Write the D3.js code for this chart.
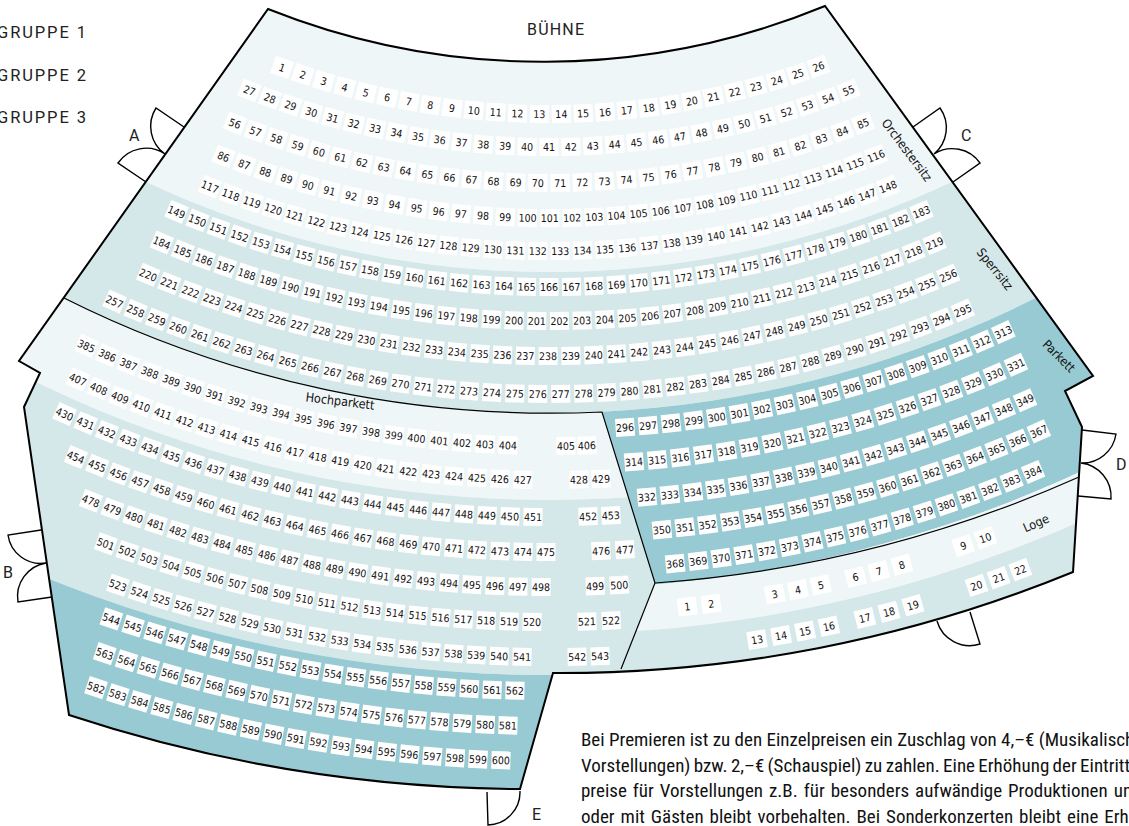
<!DOCTYPE html>
<html>
<head>
<meta charset="utf-8">
<script src="https://cdn.jsdelivr.net/npm/d3@7"></script>
<style>
  html, body { margin: 0; padding: 0; background: #fff; overflow: hidden; }
  svg { display: block; }
  .seat text { font-family: "DejaVu Sans Condensed", "DejaVu Sans", sans-serif; font-stretch: condensed; font-size: 10.5px; fill: #111; text-anchor: middle; dominant-baseline: central; }
  .block { font-family: "DejaVu Sans Condensed", "DejaVu Sans", sans-serif; font-stretch: condensed; font-size: 12.5px; fill: #111; text-anchor: middle; dominant-baseline: central; }
  .tag { font-family: Roboto, sans-serif; font-size: 16px; fill: #222; letter-spacing: 1.2px; }
  .legend { font-size: 16.5px; letter-spacing: 1.9px; }
  .note { font-family: "Liberation Sans Narrow", "Roboto Condensed", sans-serif; font-size: 19px; fill: #111; }
</style>
</head>
<body>
<svg id="plan" width="1129" height="826"></svg>
<script>
// seat rows: first / last number, radius of the row, angle (degrees) of first and last seat
const seatFirst = [1, 27, 56, 86, 117, 149, 184, 220, 257,
  385, 405, 407, 428, 430, 452, 454, 476, 478, 499, 501, 521, 523, 542, 544, 563, 582,
  296, 314, 332, 350, 368];
const seatLast = [26, 55, 85, 116, 148, 183, 219, 256, 295,
  404, 406, 427, 429, 451, 453, 475, 477, 498, 500, 520, 522, 541, 543, 562, 581, 600,
  313, 331, 349, 367, 384];
const rowRadius = [788, 821, 857, 892, 925, 961, 995, 1030, 1068,
  1120, 1120, 1154, 1154, 1191, 1191, 1226, 1226, 1261, 1261, 1296, 1296, 1331, 1331, 1365, 1400, 1435,
  1104, 1139, 1175, 1209, 1244];
const angleFirst = [-19.8, -21.4, -21.5, -21.4, -21.5, -22.8, -22.9, -22.9, -24,
  -24.4, 0.87, -24.1, 1.49, -24, 1.88, -22.7, 2.43, -21.3, 2.1, -20, 1.68, -18.9, 1.21, -18.7, -18.5, -18.4,
  3.95, 4.28, 4.78, 5.36, 5.82];
const angleLast = [20, 21.4, 21.5, 21.5, 21.5, 22.8, 22.8, 22.8, 22.8,
  -2.1, 1.94, -1.3, 2.58, -0.77, 2.98, -0.14, 3.55, -0.36, 3.19, -0.75, 2.75, -1.16, 2.2, -1.43, -1.68, -1.92,
  24.3, 24.2, 23.9, 23.9, 22.9];

// Loge has its own numbering
const logeFirst = [1, 3, 6, 9, 13, 17, 20];
const logeLast = [2, 5, 8, 10, 16, 19, 22];
const logeRadius = [1288, 1288, 1288, 1288, 1330, 1330, 1330];
const logeAngleFirst = [6.16, 10.1, 13.77, 18.76, 9, 13.74, 18.75];
const logeAngleLast = [7.23, 12.18, 15.9, 19.8, 12.15, 15.88, 20.76];

const legendLabels = ['GRUPPE 1', 'GRUPPE 2', 'GRUPPE 3'];
const noteLines = [
  'Bei Premieren ist zu den Einzelpreisen ein Zuschlag von 4,–€ (Musikalische',
  'Vorstellungen) bzw. 2,–€ (Schauspiel) zu zahlen. Eine Erhöhung der Eintritts-',
  'preise für Vorstellungen z.B. für besonders aufwändige Produktionen und',
  'oder mit Gästen bleibt vorbehalten. Bei Sonderkonzerten bleibt eine Erhöhung'
];
const noteSpacing = [0, -1, 1.6, 1.6];

const light = '#eff6f8';
const mid = '#d4e7e9';
const dark = '#97cad2';

const svg = d3.select('#plan');
const cx = 549;
const cy = -674;

const defs = svg.append('defs');

// outer wall of the hall
const outline = 'M268,9 A742,742 0 0 0 825,6 L1093,376 L1065,391 L1082,427 L1073,572 ' +
  'A1350,1350 0 0 1 553,673 L520,789 A1466,1466 0 0 1 69,715 L24,407 L40,373 L19,361 Z';
defs.append('clipPath').attr('id', 'hall').append('path').attr('d', outline);
defs.append('clipPath').attr('id', 'leftSide').append('path')
  .attr('d', 'M0,0 H602 V412 L655,583 L621,669 L560,826 H0 Z');
defs.append('clipPath').attr('id', 'rightSide').append('path')
  .attr('d', 'M602,0 V412 L655,583 L621,669 L560,826 H1129 V0 Z');

const hall = svg.append('g').attr('clip-path', 'url(#hall)');

function ring(parent, inner, outer, color) {
  const arc = d3.arc()
    .innerRadius(inner)
    .outerRadius(outer)
    .startAngle(Math.PI / 2)
    .endAngle(Math.PI * 1.5);
  parent.append('path')
    .attr('transform', `translate(${cx},${cy})`)
    .attr('d', arc())
    .attr('fill', color);
}

ring(hall, 700, 946, light);
ring(hall, 946, 1087, mid);

const leftSide = hall.append('g').attr('clip-path', 'url(#leftSide)');
ring(leftSide, 1087, 1174, light);
ring(leftSide, 1174, 1349, mid);
ring(leftSide, 1349, 1500, dark);

const rightSide = hall.append('g').attr('clip-path', 'url(#rightSide)');
ring(rightSide, 1087, 1263, dark);
ring(rightSide, 1263, 1308, light);
ring(rightSide, 1308, 1400, mid);

// thin inner walls
svg.append('path')
  .attr('d', 'M64,298 A1087,1087 0 0 0 602,412 L655,583 L621,669 M655,583 A1263,1263 0 0 0 1079,477')
  .attr('fill', 'none')
  .attr('stroke', '#000')
  .attr('stroke-width', 1.2);

svg.append('path')
  .attr('d', outline)
  .attr('fill', 'none')
  .attr('stroke', '#000')
  .attr('stroke-width', 2)
  .attr('stroke-linejoin', 'miter');

// doors
const doors = [
  'M184,127 L156,108 A34,34 0 0 0 165,154 A34,34 0 0 0 118,163 L146,182',
  'M913,127 L940,108 A34,34 0 0 1 934,154 A34,34 0 0 1 980,163 L953,182',
  'M1082,430 L1116,434 A34,34 0 0 1 1081,463 A34,34 0 0 1 1111,499 L1078,496',
  'M41,530 L8,535 A33,33 0 0 0 46,563 A34,34 0 0 0 18,602 L52,597',
  'M487,792 L488,825 A33,33 0 0 0 520,791',
  'M937,621 A34,34 0 0 0 980,644 L970,612'
];
svg.selectAll('.door')
  .data(doors)
  .enter()
  .append('path')
  .attr('class', 'door')
  .attr('d', d => d)
  .attr('fill', 'none')
  .attr('stroke', '#000')
  .attr('stroke-width', 1.4);

function drawRows(first, last, radius, a0, a1) {
  first.forEach((start, i) => {
    const angle = d3.scaleLinear().domain([start, last[i]]).range([a0[i], a1[i]]);
    d3.range(start, last[i] + 1).forEach(n => {
      const t = (angle(n) * Math.PI) / 180;
      const x = cx + radius[i] * Math.sin(t);
      const y = cy + radius[i] * Math.cos(t);
      const seat = svg.append('g')
        .attr('class', 'seat')
        .attr('transform', `translate(${x},${y}) rotate(${-angle(n)})`);
      seat.append('rect')
        .attr('x', -9.5)
        .attr('y', -9)
        .attr('width', 19)
        .attr('height', 18)
        .attr('fill', '#fff');
      seat.append('text').text(n);
    });
  });
}

drawRows(seatFirst, seatLast, rowRadius, angleFirst, angleLast);
drawRows(logeFirst, logeLast, logeRadius, logeAngleFirst, logeAngleLast);

// block names
const blocks = [
  ['Orchestersitz', 907, 150, 53],
  ['Sperrsitz', 995, 269, 51],
  ['Parkett', 1059, 356, 45],
  ['Hochparkett', 340, 401, 7],
  ['Loge', 1036, 523, -24]
];
svg.selectAll('.block')
  .data(blocks)
  .enter()
  .append('text')
  .attr('class', 'block')
  .attr('transform', d => `translate(${d[1]},${d[2]}) rotate(${d[3]})`)
  .text(d => d[0]);

// stage, door letters
const tags = [['BÜHNE', 527, 35], ['A', 129, 141], ['C', 961, 141], ['D', 1116, 470], ['B', 3, 578], ['E', 532, 820]];
svg.selectAll('.tag')
  .data(tags)
  .enter()
  .append('text')
  .attr('class', 'tag')
  .attr('x', d => d[1])
  .attr('y', d => d[2])
  .text(d => d[0]);

const legendY = d3.scalePoint().domain(legendLabels).range([38, 123]);
svg.selectAll('.legend')
  .data(legendLabels)
  .enter()
  .append('text')
  .attr('class', 'tag legend')
  .attr('x', -3)
  .attr('y', d => legendY(d))
  .text(d => d);

svg.selectAll('.note')
  .data(noteLines)
  .enter()
  .append('text')
  .attr('class', 'note')
  .attr('x', 581)
  .attr('y', (d, i) => 746 + i * 25.7)
  .style('word-spacing', (d, i) => `${noteSpacing[i]}px`)
  .text(d => d);
</script>
</body>
</html>
